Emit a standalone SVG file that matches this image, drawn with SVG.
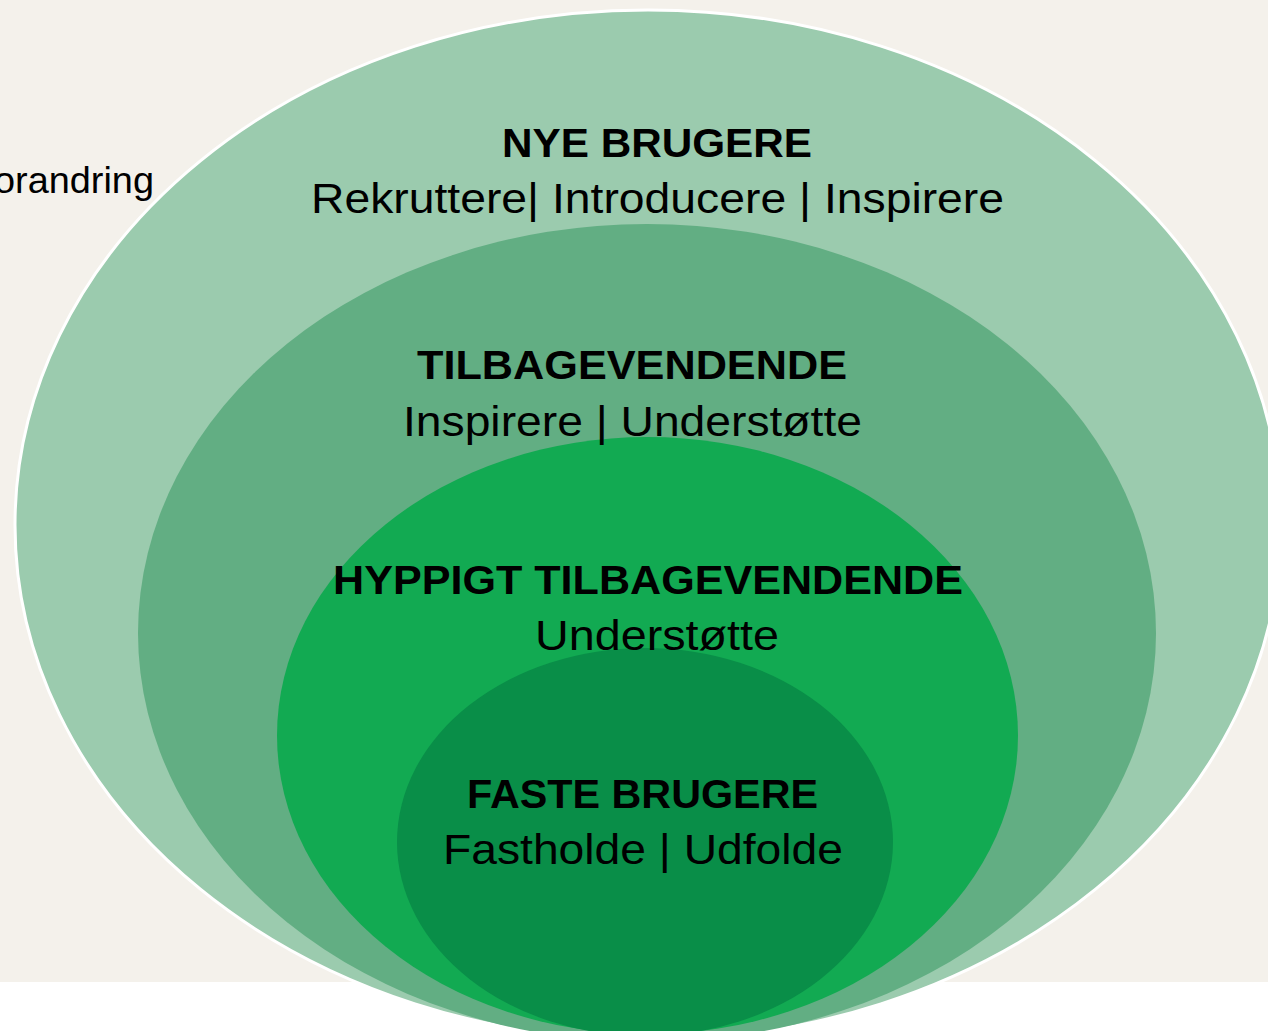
<svg xmlns="http://www.w3.org/2000/svg" width="1268" height="1031" viewBox="0 0 1268 1031">
<style>
.h{font-family:"Liberation Sans Narrow","Liberation Sans",Arial,sans-serif;font-weight:bold;font-size:41px;fill:#000}
.hw{font-family:"Liberation Sans",Arial,sans-serif;font-weight:bold;font-size:41px;fill:#000}
.s{font-family:"Liberation Sans Narrow","Liberation Sans",Arial,sans-serif;font-size:43px;fill:#000}
.sw{font-family:"Liberation Sans",Arial,sans-serif;font-size:43px;fill:#000}
.o{font-family:"Liberation Sans",Arial,sans-serif;font-size:37px;fill:#000}
</style>
<rect x="0" y="0" width="1268" height="1031" fill="#ffffff"/>
<rect x="0" y="0" width="1268" height="982" fill="#f4f1eb"/>
<text class="o" x="-6" y="193" textLength="160" lengthAdjust="spacingAndGlyphs">orandring</text>
<g id="nye-brugere">
<ellipse cx="648" cy="525" rx="633" ry="515" fill="#9bcbae" stroke="#ffffff" stroke-width="3"/>
</g>
<g id="tilbagevendende">
<ellipse cx="647" cy="633" rx="509" ry="409" fill="#62ae83"/>
</g>
<g id="hyppigt-tilbagevendende">
<ellipse cx="647.5" cy="735.5" rx="370.5" ry="298.5" fill="#12aa52"/>
</g>
<g id="faste-brugere">
<ellipse cx="645" cy="842" rx="248" ry="194" fill="#098e48"/>
</g>
<g id="nye-brugere-label">
<text class="h" x="502" y="157" textLength="310" lengthAdjust="spacingAndGlyphs">NYE BRUGERE</text>
<text class="s" x="311" y="213" textLength="693" lengthAdjust="spacingAndGlyphs">Rekruttere| Introducere | Inspirere</text>
</g>
<g id="tilbagevendende-label">
<text class="h" x="417" y="379" textLength="430" lengthAdjust="spacingAndGlyphs">TILBAGEVENDENDE</text>
<text class="s" x="403" y="436" textLength="459" lengthAdjust="spacingAndGlyphs">Inspirere | Understøtte</text>
</g>
<g id="hyppigt-tilbagevendende-label">
<text class="h" x="333" y="594" textLength="630" lengthAdjust="spacingAndGlyphs">HYPPIGT TILBAGEVENDENDE</text>
<text class="s" x="535" y="650" textLength="244" lengthAdjust="spacingAndGlyphs">Understøtte</text>
</g>
<g id="faste-brugere-label">
<text class="hw" x="467" y="808" textLength="351" lengthAdjust="spacingAndGlyphs">FASTE BRUGERE</text>
<text class="sw" x="443" y="864" textLength="400" lengthAdjust="spacingAndGlyphs">Fastholde | Udfolde</text>
</g>
<g id="connectors"></g>
</svg>
